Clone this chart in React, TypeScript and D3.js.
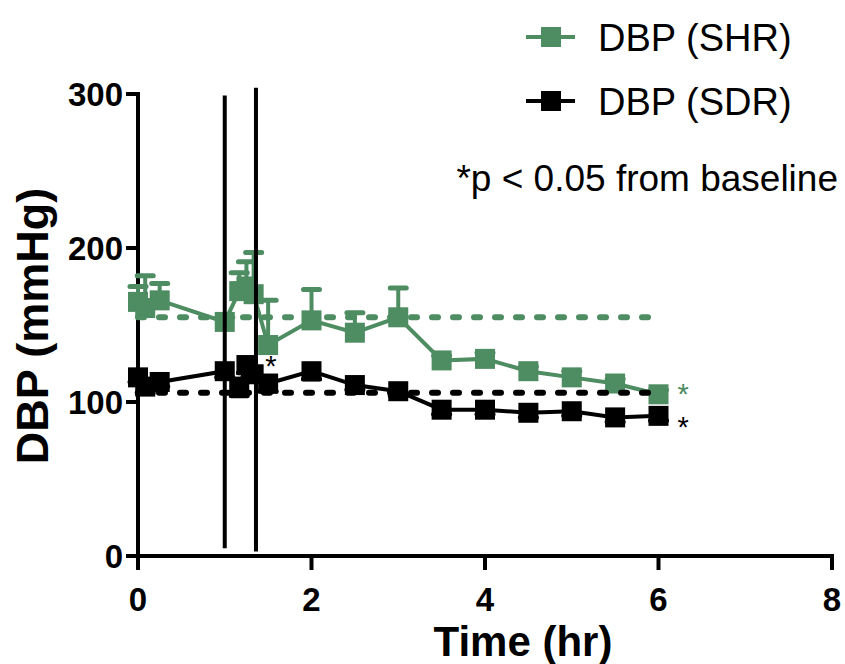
import * as d3 from 'd3';
import React from 'react';

// time points (hr)
const times = [0, 0.083, 0.25, 1, 1.167, 1.25, 1.333, 1.5, 2, 2.5, 3, 3.5, 4, 4.5, 5, 5.5, 6];
// DBP (SHR) mean and SEM
const shrMean = [165, 161, 166, 152, 172, 175, 170, 137, 153, 145, 155, 127, 128, 120, 116, 112, 105];
const shrErr = [10, 21, 11, 3, 12, 16, 27, 29, 20, 13, 19, 3, 4, 3, 4, 3, 3];
// DBP (SDR) mean and SEM
const sdrMean = [116, 110, 113, 120, 110, 124, 118, 112, 120, 111, 107, 95, 95, 93, 94, 90, 91];
const sdrErr = [3, 4, 3, 4, 6, 5, 4, 5, 5, 3, 3, 3, 3, 3, 3, 3, 3];
// baselines
const baselineSHR = 155;
const baselineSDR = 106;
const baselineRange = [0, 6];
// intervention markers (hr) and their extent
const markerTimes = [1, 1.36];
const markerTop = [299, 304];
const markerBottom = [5, 3];
const xTicks = [0, 2, 4, 6, 8];
const yTicks = [0, 100, 200, 300];
const legendLabels = ['DBP (SHR)', 'DBP (SDR)'];

const GREEN = '#4e8c62';
const BLACK = '#000000';
const FONT = "'Liberation Sans', Arial, Helvetica, sans-serif";

export default function App() {
  const x = d3.scaleLinear().domain([0, 8]).range([138, 832]);
  const y = d3.scaleLinear().domain([0, 300]).range([556, 94]);
  const line = d3
    .line<number>()
    .x((d, i) => x(times[i]))
    .y((d) => y(d));
  const sq = 20;

  const series = [
    { mean: shrMean, err: shrErr, color: GREEN, dir: 1 },
    { mean: sdrMean, err: sdrErr, color: BLACK, dir: -1 }
  ];

  return (
    <svg width={845} height={664} style={{ position: 'absolute', left: 0, top: 0, background: '#fff' }}>
      {/* axes */}
      <g stroke="#000" strokeWidth={4}>
        <line x1={x(0)} x2={x(0)} y1={y(300) - 2} y2={y(0) + 2} />
        <line x1={x(0) - 2} x2={x(8) + 2} y1={y(0)} y2={y(0)} />
        {yTicks.map((t) => (
          <line key={'yt' + t} x1={x(0) - 12} x2={x(0)} y1={y(t)} y2={y(t)} />
        ))}
        {xTicks.map((t) => (
          <line key={'xt' + t} x1={x(t)} x2={x(t)} y1={y(0)} y2={y(0) + 14} />
        ))}
      </g>
      <g fontFamily={FONT} fontWeight="bold" fontSize={33} fill="#000">
        {yTicks.map((t) => (
          <text key={'yl' + t} x={x(0) - 15} y={y(t)} dy="0.36em" textAnchor="end">
            {t}
          </text>
        ))}
        {xTicks.map((t) => (
          <text key={'xl' + t} x={x(t)} y={y(0) + 55} textAnchor="middle">
            {t}
          </text>
        ))}
      </g>
      <text x={523} y={656} textAnchor="middle" fontFamily={FONT} fontWeight="bold" fontSize={42}>
        Time (hr)
      </text>
      <text
        transform={`translate(48,326) rotate(-90)`}
        textAnchor="middle"
        fontFamily={FONT}
        fontWeight="bold"
        fontSize={45}
      >
        DBP (mmHg)
      </text>

      {/* series */}
      {series.map((s, si) => (
        <g key={'s' + si}>
          <path d={line(s.mean) || ''} fill="none" stroke={s.color} strokeWidth={4} />
          {s.mean.map((m, i) => {
            const yEnd = y(m + s.dir * s.err[i]);
            return (
              <g key={i} stroke={s.color} strokeLinecap="round">
                <line x1={x(times[i])} x2={x(times[i])} y1={y(m)} y2={yEnd} strokeWidth={4} />
                <line x1={x(times[i]) - 8} x2={x(times[i]) + 8} y1={yEnd} y2={yEnd} strokeWidth={5} />
              </g>
            );
          })}
          {s.mean.map((m, i) => (
            <rect key={'r' + i} x={x(times[i]) - sq / 2} y={y(m) - sq / 2} width={sq} height={sq} fill={s.color} />
          ))}
        </g>
      ))}

      {/* baselines */}
      <line
        x1={x(baselineRange[0])}
        x2={x(baselineRange[1])}
        y1={y(baselineSHR)}
        y2={y(baselineSHR)}
        stroke={GREEN}
        strokeWidth={6}
        strokeDasharray="6 15"
        strokeLinecap="round"
      />
      <line
        x1={x(baselineRange[0])}
        x2={x(baselineRange[1])}
        y1={y(baselineSDR)}
        y2={y(baselineSDR)}
        stroke={BLACK}
        strokeWidth={6}
        strokeDasharray="6 15"
        strokeLinecap="round"
      />

      {/* intervention markers */}
      {markerTimes.map((t, i) => (
        <line key={'m' + i} x1={x(t)} x2={x(t)} y1={y(markerTop[i])} y2={y(markerBottom[i])} stroke="#000" strokeWidth={4} />
      ))}

      {/* significance */}
      <g fontFamily={FONT} fontSize={29}>
        <text x={x(6) + 19} y={404} fill={GREEN}>*</text>
        <text x={x(6) + 19} y={437} fill={BLACK}>*</text>
        <text x={x(1.5) - 3} y={376} fill={BLACK}>*</text>
      </g>

      {/* legend */}
      <g fontFamily={FONT} fontSize={38}>
        {legendLabels.map((l, i) => {
          const cy = 37 + i * 64;
          const c = i === 0 ? GREEN : BLACK;
          return (
            <g key={l}>
              <line x1={526} x2={575} y1={cy} y2={cy} stroke={c} strokeWidth={4} />
              <rect x={541} y={cy - 10} width={20} height={20} fill={c} />
              <text x={598} y={cy + 14}>{l}</text>
            </g>
          );
        })}
        <text x={838} y={191} textAnchor="end" fontSize={37}>*p &lt; 0.05 from baseline</text>
      </g>
    </svg>
  );
}
